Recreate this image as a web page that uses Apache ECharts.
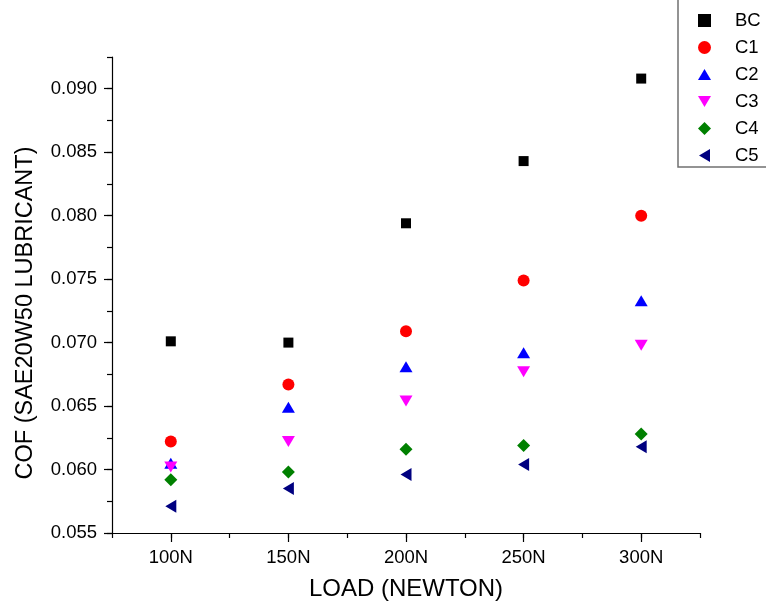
<!DOCTYPE html>
<html>
<head>
<meta charset="utf-8">
<script src="https://cdn.jsdelivr.net/npm/echarts@6/dist/echarts.min.js"></script>
<style>
html,body{margin:0;padding:0;background:#fff;}
#chart{width:766px;height:611px;}
</style>
</head>
<body>
<div id="chart"></div>
<script>
// ---- data ----
var loads = [100, 150, 200, 250, 300];
var xTickValues = [100, 150, 200, 250, 300];
var yTickValues = [0.055, 0.060, 0.065, 0.070, 0.075, 0.080, 0.085, 0.090];
var seriesNames = ['BC', 'C1', 'C2', 'C3', 'C4', 'C5'];
var BC = [0.0701, 0.0700, 0.0794, 0.0843, 0.0908];
var C1 = [0.0622, 0.0667, 0.0709, 0.0749, 0.0800];
var C2 = [0.0605, 0.0649, 0.0681, 0.0692, 0.0733];
var C3 = [0.0602, 0.0622, 0.0654, 0.0677, 0.0698];
var C4 = [0.0592, 0.0598, 0.0616, 0.0619, 0.0628];
var C5 = [0.0571, 0.0585, 0.0596, 0.0604, 0.0618];

var FONT = '"Liberation Sans", Arial, sans-serif';

function pts(vals) {
  return loads.map(function (x, i) { return [x, vals[i]]; });
}

var styles = [
  { data: BC, color: '#000000', symbol: 'rect', size: [10, 10], rotate: 0, icon: 'path://M1.5,1.5L11.5,1.5L11.5,11.5L1.5,11.5Z' },
  { data: C1, color: '#ff0000', symbol: 'circle', size: 12, rotate: 0, icon: 'circle' },
  { data: C2, color: '#0000ff', symbol: 'triangle', size: [13, 11], rotate: 0, icon: 'path://M6.5,1L13,12L0,12Z' },
  { data: C3, color: '#ff00ff', symbol: 'triangle', size: [13, 11], rotate: 180, icon: 'path://M0,1L13,1L6.5,12Z' },
  { data: C4, color: '#008000', symbol: 'diamond', size: [13, 13], rotate: 0, icon: 'diamond' },
  { data: C5, color: '#000080', symbol: 'triangle', size: [13, 11], rotate: 90, icon: 'path://M12,0L12,13L1,6.5Z' }
];

var series = styles.map(function (s, i) {
  return {
    name: seriesNames[i],
    type: 'scatter',
    xAxisIndex: 0,
    yAxisIndex: 0,
    symbol: s.symbol,
    symbolSize: s.size,
    symbolRotate: s.rotate,
    itemStyle: { color: s.color, opacity: 1 },
    emphasis: { disabled: true },
    data: pts(s.data),
    z: 3
  };
});

var legendData = styles.map(function (s, i) {
  return { name: seriesNames[i], icon: s.icon, itemStyle: { color: s.color, opacity: 1 } };
});

var chart = echarts.init(document.getElementById('chart'), null, { renderer: 'canvas' });
chart.setOption({
  animation: false,
  backgroundColor: '#ffffff',
  grid: { left: 112, right: 66, top: 57, bottom: 78, containLabel: false },
  legend: {
    orient: 'vertical',
    left: 698,
    top: 11,
    padding: 0,
    itemWidth: 13,
    itemHeight: 13,
    itemGap: 8,
    data: legendData,
    selectedMode: false,
    textStyle: { fontFamily: FONT, fontSize: 18.5, color: '#000', lineHeight: 19, padding: [0, 0, 0, 19] }
  },
  graphic: [{
    type: 'rect',
    shape: { x: 678, y: -5, width: 100, height: 172 },
    style: { fill: 'none', stroke: '#707070', lineWidth: 1.5 },
    z: 0
  }],
  xAxis: [{
    type: 'value',
    min: 75, max: 325,
    name: 'LOAD (NEWTON)',
    nameLocation: 'middle',
    nameGap: 44,
    nameTextStyle: { fontFamily: FONT, fontSize: 24, color: '#000' },
    axisLine: { show: true, onZero: false, lineStyle: { color: '#000', width: 1.2 } },
    axisTick: { show: true, inside: false, length: 9, customValues: xTickValues, lineStyle: { color: '#000', width: 1.2 } },
    axisLabel: { show: true, customValues: xTickValues, margin: 15, fontFamily: FONT, fontSize: 18.5, color: '#000',
      formatter: function (v) { return v + 'N'; } },
    splitLine: { show: false }
  }, {
    type: 'value',
    min: 75, max: 325, interval: 25,
    position: 'bottom',
    axisLine: { show: false },
    axisTick: { show: true, length: 5, lineStyle: { color: '#000', width: 1.2 } },
    axisLabel: { show: false },
    splitLine: { show: false }
  }],
  yAxis: [{
    type: 'value',
    min: 0.055, max: 0.0925,
    name: 'COF (SAE20W50 LUBRICANT)',
    nameLocation: 'middle',
    nameGap: 74,
    nameRotate: 90,
    nameTextStyle: { fontFamily: FONT, fontSize: 23.5, color: '#000', padding: [0, 36, 0, 0] },
    axisLine: { show: true, onZero: false, lineStyle: { color: '#000', width: 1.2 } },
    axisTick: { show: true, inside: false, length: 8, customValues: yTickValues, lineStyle: { color: '#000', width: 1.2 } },
    axisLabel: { show: true, customValues: yTickValues, margin: 15, fontFamily: FONT, fontSize: 18.5, color: '#000',
      formatter: function (v) { return v.toFixed(3); } },
    splitLine: { show: false }
  }, {
    type: 'value',
    min: 0.055, max: 0.0925, interval: 0.0025,
    position: 'left',
    axisLine: { show: false },
    axisTick: { show: true, length: 5, lineStyle: { color: '#000', width: 1.2 } },
    axisLabel: { show: false },
    splitLine: { show: false }
  }],
  series: series
});
</script>
</body>
</html>
